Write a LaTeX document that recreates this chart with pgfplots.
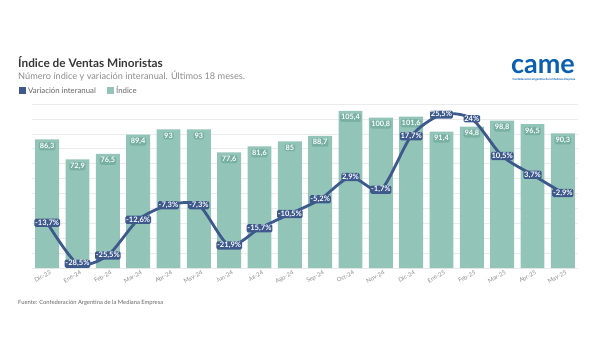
\documentclass[border=0pt]{standalone}
\usepackage{fontspec}
\setmainfont{Lato}
\usepackage{pgfplots}
\pgfplotsset{compat=1.18}
\definecolor{barc}{HTML}{92C4B8}
\definecolor{barl}{HTML}{78B0A2}
\definecolor{linec}{HTML}{3E5A8C}
\definecolor{logoc}{HTML}{0B5FB0}
\begin{document}
\begin{tikzpicture}
\path[fill=white] (0pt,0pt) rectangle (600pt,360pt);
% titles
\node[anchor=base west, inner sep=0, font=\bfseries\fontsize{11.8}{13}\selectfont, text=black!78] at (18pt,293pt) {Índice de Ventas Minoristas};
\node[anchor=base west, inner sep=0, font=\fontsize{9.2}{10}\selectfont, text=black!45] at (18pt,281pt) {Número índice y variación interanual. Últimos 18 meses.};
% legend
\fill[linec] (19pt,266pt) rectangle (26pt,273pt);
\node[anchor=base west, inner sep=0, font=\fontsize{7.8}{8}\selectfont, text=black!60] at (28pt,267pt) {Variación interanual};
\fill[barc] (107pt,266pt) rectangle (114pt,273pt);
\node[anchor=base west, inner sep=0, font=\fontsize{7.8}{8}\selectfont, text=black!60] at (116pt,267pt) {Índice};
% logo
\node[anchor=base, inner sep=0, font=\bfseries\fontsize{27}{28}\selectfont, text=logoc] at (543pt,287pt) {came};
\node[anchor=base, inner sep=0, font=\bfseries\fontsize{2.9}{3}\selectfont, text=logoc] at (544pt,280pt) {Confederación Argentina de la Mediana Empresa};
% footer
\node[anchor=base west, inner sep=0, font=\fontsize{5.8}{6}\selectfont, text=black!60] at (18pt,56pt) {Fuente: Confederación Argentina de la Mediana Empresa};
\begin{axis}[at={(32pt,92pt)}, anchor=south west, scale only axis, width=546pt, height=164pt,
  xmin=-0.5, xmax=17.5, ymin=0, ymax=110, clip=false,
  axis line style={draw=none}, major tick length=0pt,
  ytick={0,10,...,110}, yticklabels={}, ymajorgrids, grid style={black!8, line width=0.5pt},
  xtick={0,...,17},
  xticklabels={Dic-23,Ene-24,Feb-24,Mar-24,Abr-24,May-24,Jun-24,Jul-24,Ago-24,Sep-24,Oct-24,Nov-24,Dic-24,Ene-25,Feb-25,Mar-25,Abr-25,May-25},
  xticklabel style={rotate=28, anchor=north east, font=\fontsize{5.9}{6}\selectfont, text=black!45, inner sep=1pt, xshift=2pt, yshift=-2pt},
]
\addplot[ybar, bar width=0.79, fill=barc, draw=none,
  nodes near coords, point meta=explicit symbolic,
  every node near coord/.append style={anchor=north, yshift=-2.5pt, fill=barl, text=white, rounded corners=1.5pt, inner sep=0.9pt, font=\bfseries\fontsize{7.4}{8}\selectfont}]
coordinates {(0,86.3)[86,3] (1,72.9)[72,9] (2,76.5)[76,5] (3,89.4)[89,4] (4,93)[93] (5,93)[93] (6,77.6)[77,6] (7,81.6)[81,6] (8,85)[85] (9,88.7)[88,7] (10,105.4)[105,4] (11,100.8)[100,8] (12,101.6)[101,6] (13,91.4)[91,4] (14,94.8)[94,8] (15,98.8)[98,8] (16,96.5)[96,5] (17,90.3)[90,3]};
\end{axis}
\begin{axis}[at={(32pt,92pt)}, anchor=south west, scale only axis, width=546pt, height=164pt,
  xmin=-0.5, xmax=17.5, ymin=-30.07, ymax=29.35, clip=false, hide axis]
\addplot[linec, line width=2.8pt, smooth, tension=0.45,
  nodes near coords, point meta=explicit symbolic,
  every node near coord/.append style={anchor=center, fill=linec, text=white, rounded corners=1.5pt, inner sep=0.8pt, font=\bfseries\fontsize{7.6}{8}\selectfont}]
coordinates {(0,-13.7)[-13,7\%] (1,-28.5)[-28,5\%] (2,-25.5)[-25,5\%] (3,-12.6)[-12,6\%] (4,-7.3)[-7,3\%] (5,-7.3)[-7,3\%] (6,-21.9)[-21,9\%] (7,-15.7)[-15,7\%] (8,-10.5)[-10,5\%] (9,-5.2)[-5,2\%] (10,2.9)[2,9\%] (11,-1.7)[-1,7\%] (12,17.7)[17,7\%] (13,25.5)[25,5\%] (14,24)[24\%] (15,10.5)[10,5\%] (16,3.7)[3,7\%] (17,-2.9)[-2,9\%]};
\end{axis}
\end{tikzpicture}
\end{document}
